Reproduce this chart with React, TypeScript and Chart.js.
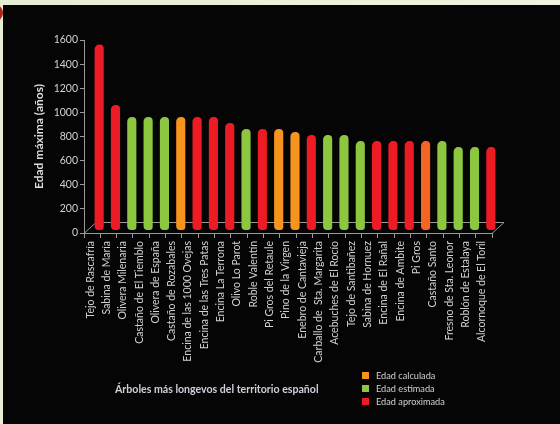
import React, { useEffect, useRef } from "react";
import { Chart, registerables } from "chart.js";

Chart.register(...registerables);

const trees = [
  "Tejo de Rascafría",
  "Sabina de María",
  "Olivera Milenaria",
  "Castaño de El Tiemblo",
  "Olivera de España",
  "Castaño de Rozabales",
  "Encina de las 1000 Ovejas",
  "Encina de las Tres Patas",
  "Encina La Terrona",
  "Olivo Lo Parot",
  "Roble Valentín",
  "Pi Gros del Retaule",
  "Pino de la Virgen",
  "Enebro de Cantavieja",
  "Carballo de  Sta. Margarita",
  "Acebuches de El Rocío",
  "Tejo de Santibañez",
  "Sabina de Hornuez",
  "Encina de El Rañal",
  "Encina de Ambite",
  "Pi Gros",
  "Castaño Santo",
  "Fresno de Sta. Leonor",
  "Roblón de Estalaya",
  "Alcornoque de El Toril",
];

const maxAge = [
  1500, 1000, 900, 900, 900, 900, 900, 900, 850, 800, 800, 800, 775, 750, 750,
  750, 700, 700, 700, 700, 700, 700, 650, 650, 650,
];

// C = Edad calculada, E = Edad estimada, A = Edad aproximada
const ageType = [
  "A", "A", "E", "E", "E", "C", "A", "A", "A", "E", "A", "C", "C", "A", "E",
  "E", "E", "A", "A", "A", "C", "E", "E", "E", "A",
];

const legendLabels = ["Edad calculada", "Edad estimada", "Edad aproximada"];
const legendTypes = ["C", "E", "A"];
const yTicks = [0, 200, 400, 600, 800, 1000, 1200, 1400, 1600];

const typeColor: Record<string, string> = {
  C: "#f7941d",
  E: "#8dc63f",
  A: "#ed1c24",
};

const FONT = "Lato, 'Open Sans', sans-serif";

const floorPlugin = {
  id: "floor3d",
  beforeDatasetsDraw(chart: any) {
    const { ctx, chartArea } = chart;
    const { left, right, bottom } = chartArea;
    const dx = 12;
    const dy = 11;
    ctx.save();
    ctx.strokeStyle = "#9a9a9a";
    ctx.lineWidth = 1;
    ctx.beginPath();
    ctx.moveTo(left, bottom + 0.5);
    ctx.lineTo(left + dx, bottom - dy + 0.5);
    ctx.lineTo(right + dx, bottom - dy + 0.5);
    ctx.lineTo(right, bottom + 0.5);
    ctx.stroke();
    ctx.restore();
    ctx.save();
    ctx.translate(7, -7.5);
  },
  afterDatasetsDraw(chart: any) {
    chart.ctx.restore();
  },
};

export default function App() {
  const ref = useRef<HTMLCanvasElement | null>(null);

  useEffect(() => {
    if (!ref.current) return;
    const colors = trees.map((t, i) =>
      t === "Pi Gros" ? "#f26522" : typeColor[ageType[i]]
    );
    const chart = new Chart(ref.current, {
      type: "bar",
      data: {
        labels: trees,
        datasets: [
          {
            label: "Edad máxima (años)",
            data: maxAge,
            backgroundColor: colors,
            borderWidth: 0,
            borderSkipped: false,
            borderRadius: { topLeft: 5, topRight: 4, bottomLeft: 4, bottomRight: 3 },
            base: -37,
            barPercentage: 0.56,
            categoryPercentage: 1,
            clip: false,
          } as any,
        ],
      },
      options: {
        responsive: false,
        animation: false,
        devicePixelRatio: 1,
        layout: { padding: { left: 30, top: 40, right: 68, bottom: 0 } },
        plugins: {
          legend: { display: false },
          tooltip: { enabled: true },
        },
        scales: {
          x: {
            offset: true,
            afterFit: (s: any) => {
              s.height = 191;
            },
            grid: {
              offset: true,
              drawOnChartArea: false,
              drawTicks: true,
              tickLength: 5,
              color: "#9a9a9a",
            },
            border: { display: true, color: "#9a9a9a" },
            ticks: {
              autoSkip: false,
              minRotation: 90,
              maxRotation: 90,
              color: "#d2d2d2",
              padding: 3,
              labelOffset: -2,
              font: { family: FONT, size: 10.5 },
            },
          },
          y: {
            min: 0,
            max: 1600,
            afterFit: (s: any) => {
              s.width = 54;
            },
            afterBuildTicks: (s: any) => {
              s.ticks = yTicks.map((v) => ({ value: v }));
            },
            grid: {
              drawOnChartArea: false,
              drawTicks: true,
              tickLength: 4,
              color: "#9a9a9a",
            },
            border: { display: true, color: "#9a9a9a" },
            ticks: {
              color: "#d2d2d2",
              padding: 2,
              font: { family: FONT, size: 10.5 },
              callback: (v: any) => String(v),
            },
            title: {
              display: true,
              text: "Edad máxima (años)",
              color: "#dcdcdc",
              padding: { top: 2, bottom: 0 },
              font: { family: FONT, size: 12, weight: "bold" },
            },
          },
        },
      },
      plugins: [floorPlugin],
    });
    return () => chart.destroy();
  }, []);

  return (
    <div
      style={{
        position: "fixed",
        left: 0,
        top: 0,
        width: 560,
        height: 424,
        overflow: "hidden",
        background: "linear-gradient(90deg, #e6edd2, #eef3e0)",
      }}
    >
      <div
        style={{
          position: "absolute",
          left: -15,
          top: 4,
          width: 18,
          height: 18,
          borderRadius: "50%",
          background: "#a8261a",
        }}
      />
      <div
        style={{
          position: "absolute",
          left: 3,
          top: 5,
          right: 0,
          bottom: 0,
          background: "#050505",
        }}
      />
      <canvas
        ref={ref}
        width={560}
        height={424}
        style={{ position: "absolute", left: 0, top: 0, width: 560, height: 424 }}
      />
      <div
        style={{
          position: "absolute",
          left: 115,
          top: 382,
          fontFamily: FONT,
          fontSize: 10.6,
          fontWeight: "bold",
          color: "#cdd0da",
          whiteSpace: "nowrap",
          lineHeight: "14px",
        }}
      >
        Árboles más longevos del territorio español
      </div>
      {legendLabels.map((lab, i) => (
        <div
          key={lab}
          style={{
            position: "absolute",
            left: 362,
            top: 369 + i * 13.4,
            height: 12,
            display: "flex",
            alignItems: "center",
            fontFamily: FONT,
            fontSize: 9.2,
            color: "#d2d2d2",
            whiteSpace: "nowrap",
          }}
        >
          <span
            style={{
              display: "inline-block",
              width: 7,
              height: 7,
              background: typeColor[legendTypes[i]],
              marginRight: 7,
            }}
          />
          {lab}
        </div>
      ))}
    </div>
  );
}
